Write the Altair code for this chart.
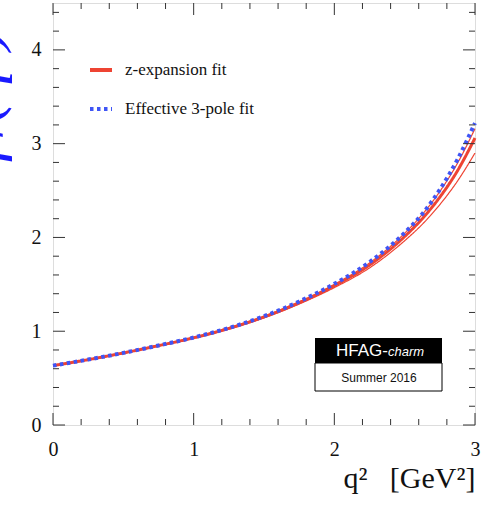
import altair as alt
import pandas as pd

# ---- data ----
q2 = [0.0, 0.25, 0.5, 0.75, 1.0, 1.25, 1.5, 1.75, 2.0, 2.25, 2.5, 2.625, 2.75, 2.875, 3.0]
pole3 = [0.633, 0.698, 0.769, 0.848, 0.933, 1.035, 1.160, 1.317, 1.505, 1.737, 2.050, 2.250, 2.510, 2.830, 3.220]
z_central = [0.633, 0.697, 0.768, 0.846, 0.930, 1.030, 1.152, 1.303, 1.485, 1.705, 2.010, 2.200, 2.430, 2.710, 3.060]
z_high = [0.636, 0.700, 0.771, 0.850, 0.935, 1.037, 1.161, 1.315, 1.500, 1.728, 2.045, 2.245, 2.490, 2.790, 3.160]
z_low = [0.630, 0.694, 0.765, 0.842, 0.925, 1.022, 1.142, 1.290, 1.465, 1.675, 1.965, 2.140, 2.350, 2.600, 2.900]

series_names = ["z-expansion fit", "Effective 3-pole fit"]
series_colors = ["#ee4433", "#3f55f5"]

x_major = [0, 1, 2, 3]
x_minor = [0.2, 0.4, 0.6, 0.8, 1.2, 1.4, 1.6, 1.8, 2.2, 2.4, 2.6, 2.8]
y_major = [0, 1, 2, 3, 4]
y_minor = [0.2, 0.4, 0.6, 0.8, 1.2, 1.4, 1.6, 1.8, 2.2, 2.4, 2.6, 2.8,
           3.2, 3.4, 3.6, 3.8, 4.2, 4.4]

W, H = 422, 422
MAJ, MIN = 12, 6

rows = []
for name, vals, w in [("central", z_central, 3.0), ("high", z_high, 1.2), ("low", z_low, 1.2)]:
    for a, b in zip(q2, vals):
        rows.append({"q2": a, "f": b, "series": series_names[0], "line": name, "w": w})
red_df = pd.DataFrame(rows)
blue_df = pd.DataFrame({"q2": q2, "f": pole3, "series": series_names[1], "line": "pole", "w": 4.0})

xsc = alt.Scale(domain=[0, 3], nice=False, zero=False)
ysc = alt.Scale(domain=[0, 4.5], nice=False, zero=False)

def leg():
    return alt.Legend(title=None, orient="none", legendX=35, legendY=54,
                      symbolType="stroke", symbolSize=484, symbolStrokeWidth=4,
                      labelFont="Liberation Serif", labelFontSize=17,
                      labelColor="#111", labelOffset=11, rowPadding=18, padding=0)

color = alt.Color("series:N", scale=alt.Scale(domain=series_names, range=series_colors), legend=leg())
dash = alt.StrokeDash("series:N", scale=alt.Scale(domain=series_names, range=[[1, 0], [3.5, 3.5]]),
                      legend=leg())

xaxis = alt.Axis(values=x_major, format="d", ticks=False, domain=False, grid=False,
                 labelFlush=False, labelOverlap=False,
                 labelFont="Liberation Serif", labelFontSize=20, labelColor="#111",
                 labelPadding=14, title="q²\u00a0\u00a0\u00a0[GeV²]", titleFont="Liberation Serif",
                 titleFontSize=30, titleFontWeight="normal", titleColor="#111",
                 titleAnchor="end", titleAlign="right", titleBaseline="alphabetic",
                 titleX=W, titleY=62)
yaxis = alt.Axis(values=y_major, format="d", ticks=False, domain=False, grid=False,
                 labelFlush=False, labelOverlap=False,
                 labelFont="Liberation Serif", labelFontSize=20, labelColor="#111",
                 labelPadding=12, title="f₊(q²)", titleFont="Liberation Serif",
                 titleFontSize=64, titleFontWeight="normal", titleFontStyle="italic",
                 titleColor="#1a1aff",
                 titleAngle=270, titleAlign="center", titleBaseline="alphabetic",
                 titleX=-56, titleY=92)

red = alt.Chart(red_df).mark_line(interpolate="monotone").encode(
    x=alt.X("q2:Q", scale=xsc, axis=xaxis),
    y=alt.Y("f:Q", scale=ysc, axis=yaxis),
    color=color, strokeDash=dash,
    strokeWidth=alt.StrokeWidth("w:Q", scale=None),
    detail="line:N",
)
blue = alt.Chart(blue_df).mark_line(interpolate="monotone", strokeCap="butt").encode(
    x=alt.X("q2:Q", scale=xsc),
    y=alt.Y("f:Q", scale=ysc),
    color=color, strokeDash=dash,
    strokeWidth=alt.StrokeWidth("w:Q", scale=None),
)

def xticks(vals, L):
    d = pd.DataFrame({"q2": vals})
    bot = alt.Chart(d).mark_rule(color="#333", strokeWidth=1).encode(
        x=alt.X("q2:Q", scale=xsc), y=alt.value(H), y2=alt.value(H - L))
    top = alt.Chart(d).mark_rule(color="#333", strokeWidth=1).encode(
        x=alt.X("q2:Q", scale=xsc), y=alt.value(0), y2=alt.value(L))
    return [bot, top]

def yticks(vals, L):
    d = pd.DataFrame({"f": vals})
    left = alt.Chart(d).mark_rule(color="#333", strokeWidth=1).encode(
        y=alt.Y("f:Q", scale=ysc), x=alt.value(0), x2=alt.value(L))
    right = alt.Chart(d).mark_rule(color="#333", strokeWidth=1).encode(
        y=alt.Y("f:Q", scale=ysc), x=alt.value(W), x2=alt.value(W - L))
    return [left, right]

ticks = xticks(x_major, MAJ) + xticks(x_minor, MIN) + yticks(y_major, MAJ) + yticks(y_minor, MIN)

one = pd.DataFrame({"k": [0]})
box_black = alt.Chart(one).mark_rect(color="black").encode(
    x=alt.value(262), x2=alt.value(389), y=alt.value(335), y2=alt.value(360))
box_white = alt.Chart(one).mark_rect(fill="white", stroke="black", strokeWidth=1).encode(
    x=alt.value(262), x2=alt.value(389), y=alt.value(360), y2=alt.value(388))
t_hfag = alt.Chart(one).mark_text(text="HFAG-", font="Liberation Sans", fontSize=17,
                                  color="white", align="right", baseline="alphabetic").encode(
    x=alt.value(335), y=alt.value(353))
t_charm = alt.Chart(one).mark_text(text="charm", font="Liberation Sans", fontSize=13,
                                   fontStyle="italic", color="white", align="left",
                                   baseline="alphabetic").encode(
    x=alt.value(335), y=alt.value(353))
t_summer = alt.Chart(one).mark_text(text="Summer 2016", font="Liberation Sans", fontSize=12,
                                    color="#111", align="center", baseline="alphabetic").encode(
    x=alt.value(326), y=alt.value(379))

chart = alt.layer(red, blue, *ticks, box_black, box_white, t_hfag, t_charm, t_summer).properties(
    width=W, height=H,
    padding={"left": 53, "top": 3, "right": 6, "bottom": 81},
    autosize=alt.AutoSizeParams(type="none"),
).configure_view(stroke="#333", strokeWidth=1.5).configure(background="white")

chart.save("out.html", embed_options={"renderer": "svg", "actions": False})
